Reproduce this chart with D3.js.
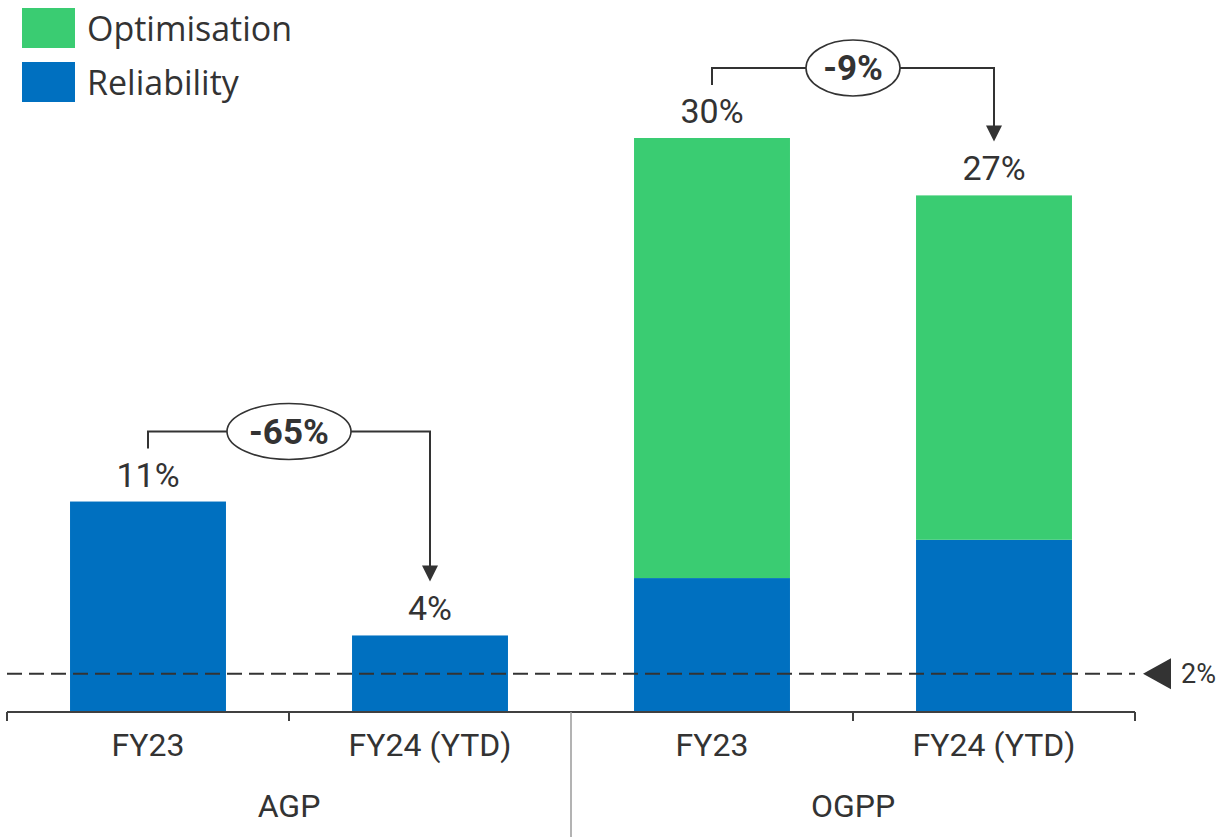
<!DOCTYPE html>
<html>
<head>
<meta charset="utf-8">
<script src="https://cdn.jsdelivr.net/npm/d3@7"></script>
<style>
  html, body { margin: 0; padding: 0; background: #ffffff; }
  svg { display: block; }
</style>
</head>
<body>
<svg id="chart" width="1225" height="837"></svg>
<script>
// Categories and series
const groups = ["AGP", "OGPP"];
const periods = ["FY23", "FY24 (YTD)"];
const barKeys = ["AGP|FY23", "AGP|FY24 (YTD)", "OGPP|FY23", "OGPP|FY24 (YTD)"];
const reliability = [11, 4, 7, 9];
const optimisation = [0, 0, 23, 18];
const totalLabels = ["11%", "4%", "30%", "27%"];
const seriesNames = ["Optimisation", "Reliability"];
const thresholdValue = 2;
const thresholdLabel = "2%";
// Change callouts: from bar index, to bar index, label
const changes = [
  { from: 0, to: 1, label: "-65%" },
  { from: 2, to: 3, label: "-9%" }
];

const colors = { Optimisation: "#3ACC72", Reliability: "#0070C0" };
const ink = "#333333";
const textColor = "#333333";
const font = "Roboto, 'Liberation Sans', sans-serif";

const svg = d3.select("#chart");

const x = d3.scaleBand()
  .domain(barKeys)
  .range([7, 1135])
  .paddingInner(0.447)
  .paddingOuter(0.2235);

const y = d3.scaleLinear().domain([0, 30]).range([712, 138]);

const rows = barKeys.map((k, i) => ({
  key: k,
  group: k.split("|")[0],
  period: k.split("|")[1],
  Reliability: reliability[i],
  Optimisation: optimisation[i],
  label: totalLabels[i]
}));

const stack = d3.stack().keys(["Reliability", "Optimisation"])(rows);

// Stacked bars
svg.append("g").selectAll("g")
  .data(stack)
  .join("g")
  .attr("fill", d => colors[d.key])
  .selectAll("rect")
  .data(d => d)
  .join("rect")
  .attr("x", d => x(d.data.key))
  .attr("width", x.bandwidth())
  .attr("y", d => y(d[1]))
  .attr("height", d => y(d[0]) - y(d[1]));

// Total labels above bars
const cx = k => x(k) + x.bandwidth() / 2;
const total = r => r.Reliability + r.Optimisation;
svg.append("g").selectAll("text")
  .data(rows)
  .join("text")
  .attr("x", d => cx(d.key))
  .attr("y", d => y(total(d)) - 15)
  .attr("text-anchor", "middle")
  .attr("font-family", font)
  .attr("font-size", 34)
  .attr("fill", textColor)
  .text(d => d.label);

// Threshold dashed line with marker
const yT = y(thresholdValue);
svg.append("line")
  .attr("x1", 7).attr("x2", 1135)
  .attr("y1", yT).attr("y2", yT)
  .attr("stroke", ink)
  .attr("stroke-width", 2)
  .attr("stroke-dasharray", "15,7");
svg.append("path")
  .attr("d", `M1143,${yT} L1171,${yT - 15.5} L1171,${yT + 15.5} Z`)
  .attr("fill", ink);
svg.append("text")
  .attr("x", 1181).attr("y", yT + 9.5)
  .attr("font-family", font)
  .attr("font-size", 27)
  .attr("fill", textColor)
  .text(thresholdLabel);

// Category axis
const axisY = 712;
const axis = svg.append("g");
axis.append("line")
  .attr("x1", 7).attr("x2", 1135)
  .attr("y1", axisY).attr("y2", axisY)
  .attr("stroke", "#404040").attr("stroke-width", 2);
const step = x.step();
const tickXs = d3.range(barKeys.length + 1).map(i => x.range()[0] + i * step);
axis.selectAll("line.tick")
  .data(tickXs.filter((d, i) => i !== 2))
  .join("line")
  .attr("class", "tick")
  .attr("x1", d => d).attr("x2", d => d)
  .attr("y1", axisY).attr("y2", axisY + 9)
  .attr("stroke", "#404040").attr("stroke-width", 2);
// Group separator
axis.append("line")
  .attr("x1", tickXs[2]).attr("x2", tickXs[2])
  .attr("y1", axisY).attr("y2", 837)
  .attr("stroke", "#9a9a9a").attr("stroke-width", 1.5);

axis.selectAll("text.period")
  .data(rows)
  .join("text")
  .attr("class", "period")
  .attr("x", d => cx(d.key))
  .attr("y", 756)
  .attr("text-anchor", "middle")
  .attr("font-family", font)
  .attr("font-size", 32)
  .attr("fill", textColor)
  .text(d => d.period);

axis.selectAll("text.group")
  .data(groups)
  .join("text")
  .attr("class", "group")
  .attr("x", (g, i) => (tickXs[i * 2] + tickXs[i * 2 + 2]) / 2)
  .attr("y", 817)
  .attr("text-anchor", "middle")
  .attr("font-family", font)
  .attr("font-size", 32)
  .attr("fill", textColor)
  .text(g => g);

// Change callouts: bracket from one bar to the next with arrow and ellipse badge
const callouts = svg.append("g");
changes.forEach(c => {
  const a = rows[c.from], b = rows[c.to];
  const x1 = cx(a.key), x2 = cx(b.key);
  const yStart = y(total(a)) - 53;
  const yTop = yStart - 17;
  const yTip = y(total(b)) - 54;
  callouts.append("path")
    .attr("d", `M${x1},${yStart} V${yTop} H${x2} V${yTip - 14}`)
    .attr("fill", "none")
    .attr("stroke", ink)
    .attr("stroke-width", 2);
  callouts.append("path")
    .attr("d", `M${x2 - 8},${yTip - 16} L${x2 + 8},${yTip - 16} L${x2},${yTip} Z`)
    .attr("fill", ink);
  const mx = (x1 + x2) / 2;
  const rx = c.label.length > 3 ? 62 : 47;
  callouts.append("ellipse")
    .attr("cx", mx).attr("cy", yTop)
    .attr("rx", rx).attr("ry", 28)
    .attr("fill", "#ffffff")
    .attr("stroke", ink)
    .attr("stroke-width", 1.6);
  callouts.append("text")
    .attr("x", mx).attr("y", yTop + 12)
    .attr("text-anchor", "middle")
    .attr("font-family", font)
    .attr("font-weight", "bold")
    .attr("font-size", 35)
    .attr("fill", ink)
    .text(c.label);
});

// Legend
const legend = svg.append("g");
seriesNames.forEach((name, i) => {
  legend.append("rect")
    .attr("x", 22).attr("y", 8 + i * 54)
    .attr("width", 53).attr("height", 40)
    .attr("fill", colors[name]);
  legend.append("text")
    .attr("x", 87).attr("y", 41 + i * 54)
    .attr("font-family", "'Open Sans', 'Noto Sans', sans-serif")
    .attr("font-size", 34)
    .attr("fill", textColor)
    .text(name);
});
</script>
</body>
</html>
